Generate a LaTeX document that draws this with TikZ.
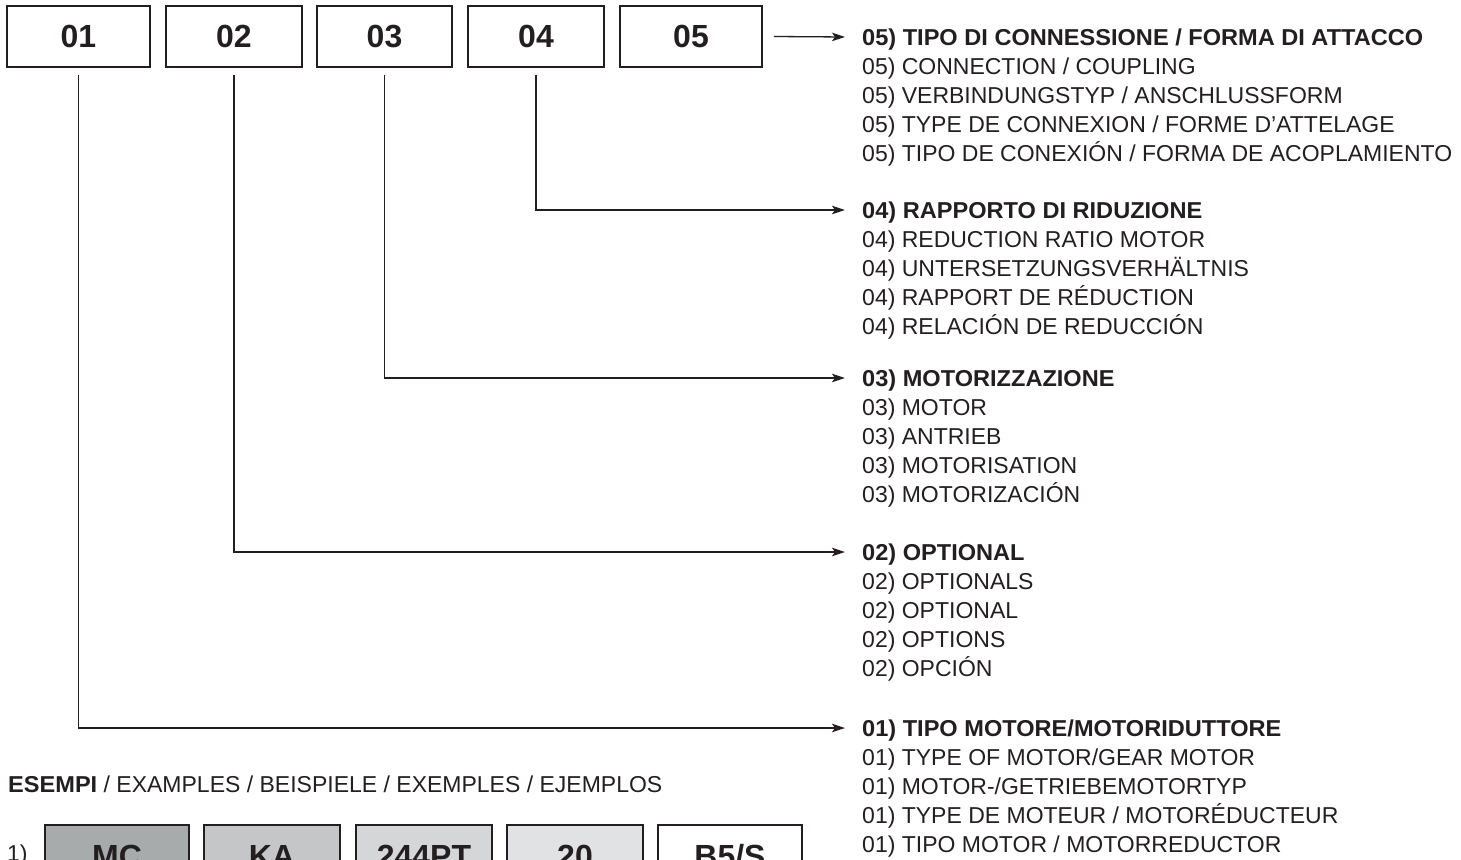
\documentclass[tikz,border=0pt]{standalone}
\usepackage{fontspec}
\setmainfont{Liberation Sans}
\newfontfamily\regf{Liberation Sans}
\newfontfamily\bldf{Liberation Sans}[FakeStretch=1.025]
\newfontfamily\boxf{Liberation Sans}
\usetikzlibrary{arrows.meta}
\definecolor{ink}{HTML}{231F20}
\definecolor{g1}{HTML}{A8ABAC}
\definecolor{g2}{HTML}{C5C6C8}
\definecolor{g3}{HTML}{D5D6D8}
\definecolor{g4}{HTML}{E1E2E4}
\begin{document}
\begin{tikzpicture}[x=1pt,y=-1pt,
  codebox/.style={draw=ink,line width=1.5pt,minimum height=61pt,text height=23pt,text depth=0pt,inner sep=0pt,text=ink,font=\boxf\bfseries\fontsize{32}{32}\selectfont},
  hd/.style={anchor=base west,inner sep=0pt,text=ink,font=\bldf\bfseries\fontsize{23}{28}\selectfont},
  ln/.style={anchor=base west,inner sep=0pt,text=ink,font=\regf\fontsize{23}{28}\selectfont},
  conn/.style={draw=ink,line width=1.3pt,-{Stealth[length=13pt,width=8.5pt,inset=3pt]}}]
\useasboundingbox (0,0) rectangle (1461,859);
\clip (0,0) rectangle (1461,859);
\fill[white] (0,0) rectangle (1461,859);
% top code boxes
\node[codebox,minimum width=143pt] (b1) at (78.5,36.5) {01};
\node[codebox,minimum width=136pt] (b2) at (234,36.5) {02};
\node[codebox,minimum width=135pt] (b3) at (384.5,36.5) {03};
\node[codebox,minimum width=136pt] (b4) at (536,36.5) {04};
\node[codebox,minimum width=142pt] (b5) at (691,36.5) {05};
% arrow end points
\coordinate (a5) at (845,37);
\coordinate (a4) at (845,210);
\coordinate (a3) at (845,378);
\coordinate (a2) at (845,552);
\coordinate (a1) at (845,728);
\draw[conn] ([xshift=11pt]b5.east) -- (a5);
\draw[conn] ([yshift=-7pt]b4.south) |- (a4);
\draw[conn] ([yshift=-7pt]b3.south) |- (a3);
\draw[conn] ([yshift=-7pt]b2.south) |- (a2);
\draw[conn] ([yshift=-7pt]b1.south) |- (a1);
% descriptions 05
\node[hd] (h5) at (862,45.5) {05) TIPO DI CONNESSIONE / FORMA DI ATTACCO};
\node[ln] (d5a) at (862,74.4) {05) CONNECTION / COUPLING};
\node[ln] (d5b) at (862,103.3) {05) VERBINDUNGSTYP / ANSCHLUSSFORM};
\node[ln] (d5c) at (862,132.2) {05) TYPE DE CONNEXION / FORME D’ATTELAGE};
\node[ln] (d5d) at (862,161.1) {05) TIPO DE CONEXIÓN / FORMA DE ACOPLAMIENTO};
% 04
\node[hd] (h4) at (862,218.5) {04) RAPPORTO DI RIDUZIONE};
\node[ln] (d4a) at (862,247.4) {04) REDUCTION RATIO MOTOR};
\node[ln] (d4b) at (862,276.3) {04) UNTERSETZUNGSVERHÄLTNIS};
\node[ln] (d4c) at (862,305.2) {04) RAPPORT DE RÉDUCTION};
\node[ln] (d4d) at (862,334.1) {04) RELACIÓN DE REDUCCIÓN};
% 03
\node[hd] (h3) at (862,386.5) {03) MOTORIZZAZIONE};
\node[ln] (d3a) at (862,415.4) {03) MOTOR};
\node[ln] (d3b) at (862,444.3) {03) ANTRIEB};
\node[ln] (d3c) at (862,473.2) {03) MOTORISATION};
\node[ln] (d3d) at (862,502.1) {03) MOTORIZACIÓN};
% 02
\node[hd] (h2) at (862,560.5) {02) OPTIONAL};
\node[ln] (d2a) at (862,589.4) {02) OPTIONALS};
\node[ln] (d2b) at (862,618.3) {02) OPTIONAL};
\node[ln] (d2c) at (862,647.2) {02) OPTIONS};
\node[ln] (d2d) at (862,676.1) {02) OPCIÓN};
% 01
\node[hd] (h1) at (862,736.5) {01) TIPO MOTORE/MOTORIDUTTORE};
\node[ln] (d1a) at (862,765.4) {01) TYPE OF MOTOR/GEAR MOTOR};
\node[ln] (d1b) at (862,794.3) {01) MOTOR-/GETRIEBEMOTORTYP};
\node[ln] (d1c) at (862,823.2) {01) TYPE DE MOTEUR / MOTORÉDUCTEUR};
\node[ln] (d1d) at (862,852.1) {01) TIPO MOTOR / MOTORREDUCTOR};
% examples
\node[ln] (ex) at (8,792) {{\bldf\bfseries ESEMPI} / EXAMPLES / BEISPIELE / EXEMPLES / EJEMPLOS};
\node[ln] (n1) at (7,861.5) {1)};
\node[codebox,fill=g1,minimum width=144pt] (e1) at (117,855.5) {MC};
\node[codebox,fill=g2,minimum width=136pt] (e2) at (272,855.5) {KA};
\node[codebox,fill=g3,minimum width=136pt] (e3) at (424,855.5) {244PT};
\node[codebox,fill=g4,minimum width=136pt] (e4) at (575,855.5) {20};
\node[codebox,fill=white,minimum width=144pt] (e5) at (730,855.5) {B5/S};
\end{tikzpicture}
\end{document}
